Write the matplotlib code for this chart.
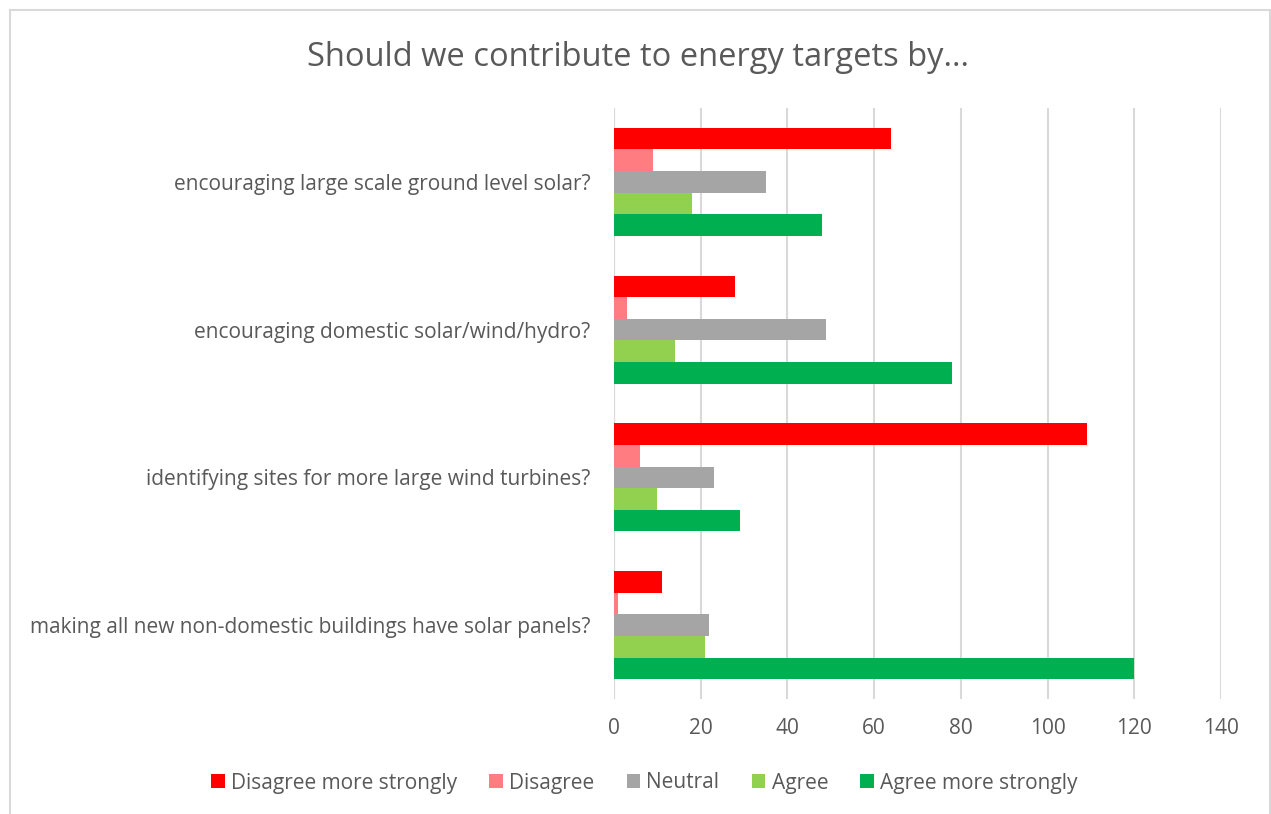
import matplotlib
matplotlib.use("Agg")
import matplotlib.pyplot as plt
import numpy as np
from matplotlib.patches import Rectangle

plt.rcParams['font.family'] = ['Open Sans', 'DejaVu Sans']

categories = [
    "encouraging large scale ground level solar?",
    "encouraging domestic solar/wind/hydro?",
    "identifying sites for more large wind turbines?",
    "making all new non-domestic buildings have solar panels?",
]
series_names = ["Disagree more strongly", "Disagree", "Neutral", "Agree", "Agree more strongly"]
disagree_strong = [64, 28, 109, 11]
disagree = [9, 3, 6, 1]
neutral = [35, 49, 23, 22]
agree = [18, 14, 10, 21]
agree_strong = [48, 78, 29, 120]
colors = ["#FF0000", "#FF7C80", "#A5A5A5", "#92D050", "#00B050"]
x_ticks = [0, 20, 40, 60, 80, 100, 120, 140]

series = [disagree_strong, disagree, neutral, agree, agree_strong]

fig = plt.figure(figsize=(12.71, 8.14), dpi=100)
ax = fig.add_axes([614 / 1271, 1 - 699 / 814, (1221 - 614) / 1271, (699 - 108) / 814])

# outer chart border
fig.patches.append(Rectangle((10 / 1271, -0.01), (1270 - 10) / 1271, 1 - 10 / 814 + 0.01,
                             transform=fig.transFigure, fill=False,
                             edgecolor="#D9D9D9", linewidth=1.5))

bh = 0.1462
y = np.arange(len(categories))
for i, (vals, name, c) in enumerate(zip(series, series_names, colors)):
    pos = y + (i - 2) * bh
    ax.barh(pos, vals, height=bh, color=c, label=name, zorder=3)

ax.set_ylim(len(categories) - 0.5, -0.5)
ax.set_xlim(0, 140)
ax.set_xticks(x_ticks)
ax.set_yticks(y)
ax.set_yticklabels(categories)
ax.xaxis.grid(True, color="#D9D9D9", linewidth=1.5, zorder=0)
for s in ax.spines.values():
    s.set_visible(False)
ax.axvline(0, color="#D9D9D9", linewidth=1.5, zorder=2)
ax.tick_params(axis="both", length=0, colors="#595959", labelsize=15)
ax.tick_params(axis="x", pad=14)
ax.tick_params(axis="y", pad=17)

fig.text(0.502, 1 - 57 / 814, "Should we contribute to energy targets by...",
         ha="center", va="center", fontsize=23.5, color="#595959")

leg = fig.legend(loc="center", bbox_to_anchor=(0.507, 1 - 783 / 814), ncol=5,
                 frameon=False, fontsize=15, handlelength=0.65, handleheight=0.65,
                 handletextpad=0.3, columnspacing=1.55)
for t in leg.get_texts():
    t.set_color("#595959")

fig.savefig("out.png", dpi=100)
